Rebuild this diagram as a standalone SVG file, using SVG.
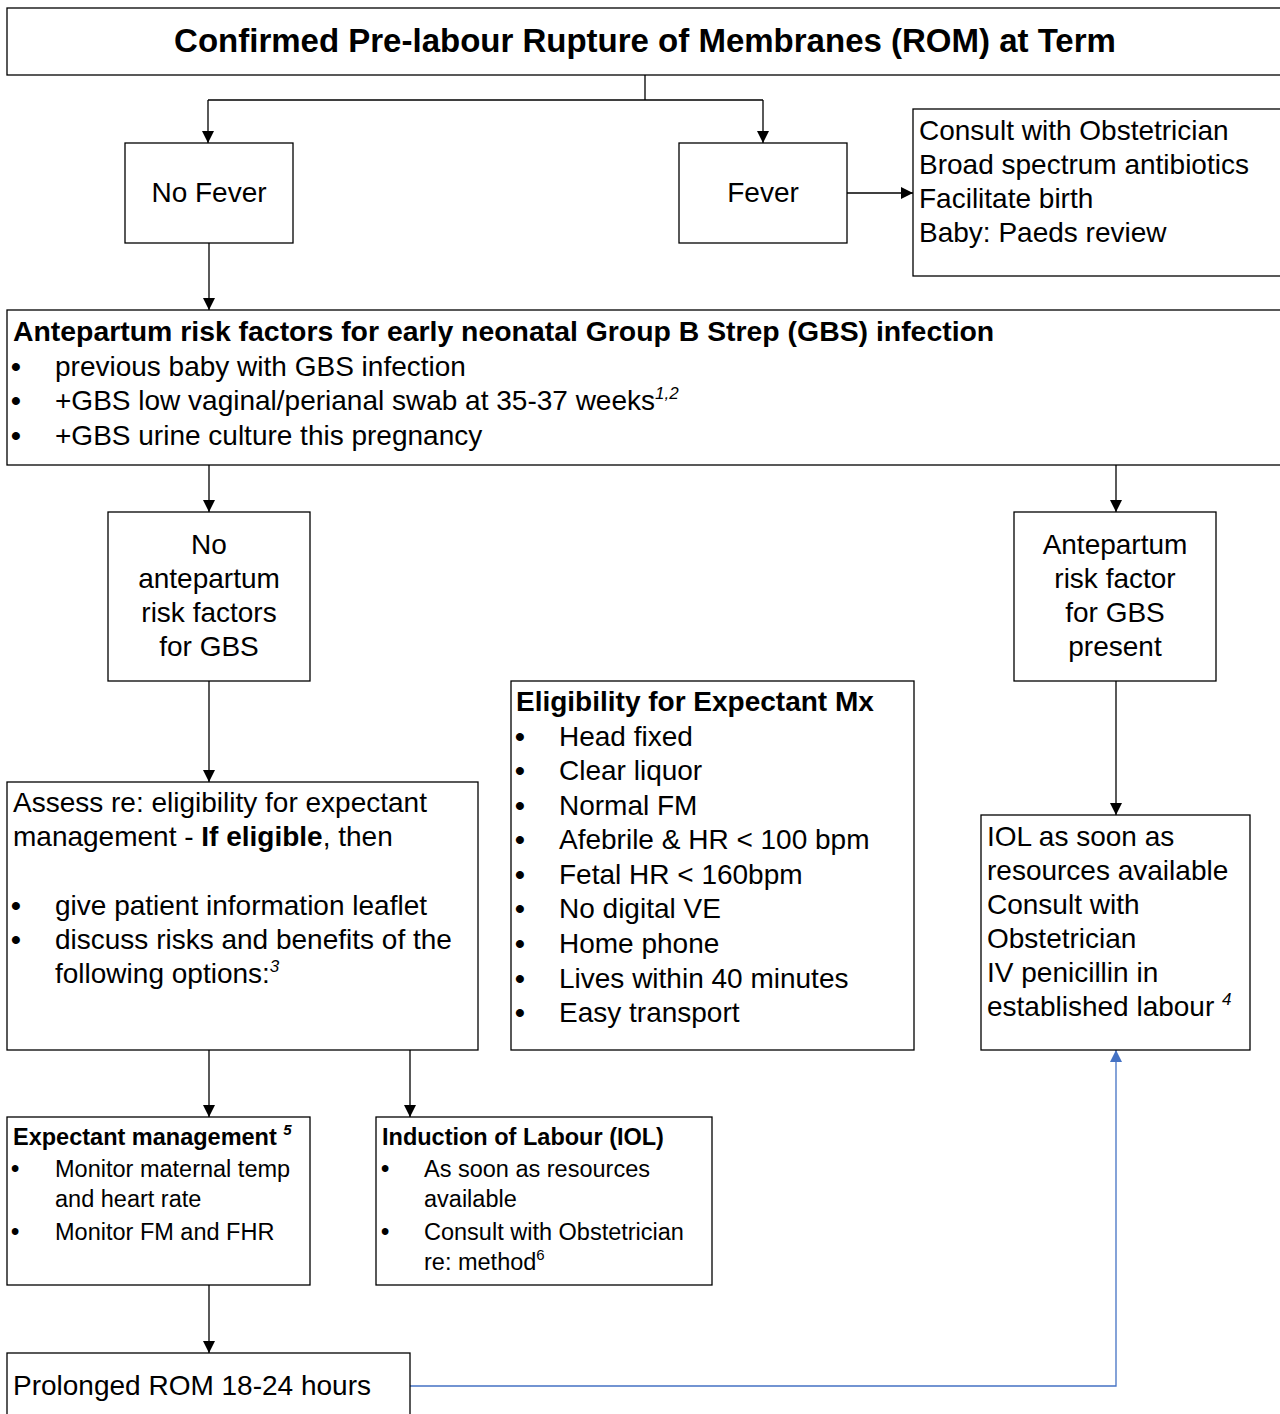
<svg xmlns="http://www.w3.org/2000/svg" width="1280" height="1414" viewBox="0 0 1280 1414">
<style>
.box{fill:#fff;stroke:#000;stroke-width:1.3}
text{font-family:"Liberation Sans",Arial,sans-serif;fill:#000}
.t{font-size:28px}
.s{font-size:23.5px}
.b{font-weight:bold}
.c{text-anchor:middle}
.bu{font-weight:bold}
.ln{fill:none;stroke:#000;stroke-width:1.3}
.blue{fill:none;stroke:#4472C4;stroke-width:1.3}
</style>
<defs>
<marker id="ah" markerWidth="12" markerHeight="12" viewBox="0 0 12 12" refX="12" refY="6" orient="auto" markerUnits="userSpaceOnUse"><path d="M0,0 L12,6 L0,12 z" fill="#000"/></marker>
<marker id="ahb" markerWidth="12" markerHeight="12" viewBox="0 0 12 12" refX="12" refY="6" orient="auto" markerUnits="userSpaceOnUse"><path d="M0,0 L12,6 L0,12 z" fill="#4472C4"/></marker>
</defs>
<rect width="1280" height="1414" fill="#fff"/>

<g id="connectors">
<path class="ln" d="M645,75 V100 M208,100 H763"/>
<path class="ln" d="M208,100 V143" marker-end="url(#ah)"/>
<path class="ln" d="M763,100 V143" marker-end="url(#ah)"/>
<path class="ln" d="M847,193 H913" marker-end="url(#ah)"/>
<path class="ln" d="M209,243 V310" marker-end="url(#ah)"/>
<path class="ln" d="M209,465 V512" marker-end="url(#ah)"/>
<path class="ln" d="M1116,465 V512" marker-end="url(#ah)"/>
<path class="ln" d="M209,681 V782" marker-end="url(#ah)"/>
<path class="ln" d="M1116,681 V815" marker-end="url(#ah)"/>
<path class="ln" d="M209,1050 V1117" marker-end="url(#ah)"/>
<path class="ln" d="M410,1050 V1117" marker-end="url(#ah)"/>
<path class="ln" d="M209,1285 V1353" marker-end="url(#ah)"/>
<path class="blue" d="M410,1386 H1116 V1050" marker-end="url(#ahb)"/>
</g>

<g id="title">
<rect class="box" x="7" y="8" width="1290" height="67"/>
<text class="b c" x="645" y="52" font-size="33">Confirmed Pre-labour Rupture of Membranes (ROM) at Term</text>
</g>

<g id="nofever">
<rect class="box" x="125" y="143" width="168" height="100"/>
<text class="t c" x="209" y="202">No Fever</text>
</g>

<g id="fever">
<rect class="box" x="679" y="143" width="168" height="100"/>
<text class="t c" x="763" y="202">Fever</text>
</g>

<g id="fever-actions">
<rect class="box" x="913" y="109" width="380" height="167"/>
<text class="t" x="919" y="140">Consult with Obstetrician</text>
<text class="t" x="919" y="174">Broad spectrum antibiotics</text>
<text class="t" x="919" y="208">Facilitate birth</text>
<text class="t" x="919" y="242">Baby: Paeds review</text>
</g>

<g id="gbs-risk">
<rect class="box" x="7" y="310" width="1290" height="155"/>
<text class="b" x="13" y="341" font-size="28.4">Antepartum risk factors for early neonatal Group B Strep (GBS) infection</text>
<text class="t" x="11" y="376"><tspan class="bu">•</tspan><tspan x="55">previous baby with GBS infection</tspan></text>
<text class="t" x="11" y="410"><tspan class="bu">•</tspan><tspan x="55">+GBS low vaginal/perianal swab at 35-37 weeks</tspan><tspan font-size="17" font-style="italic" dy="-11">1,2</tspan></text>
<text class="t" x="11" y="445"><tspan class="bu">•</tspan><tspan x="55">+GBS urine culture this pregnancy</tspan></text>
</g>

<g id="no-risk">
<rect class="box" x="108" y="512" width="202" height="169"/>
<text class="t c" x="209" y="554">No</text>
<text class="t c" x="209" y="588">antepartum</text>
<text class="t c" x="209" y="622">risk factors</text>
<text class="t c" x="209" y="656">for GBS</text>
</g>

<g id="risk-present">
<rect class="box" x="1014" y="512" width="202" height="169"/>
<text class="t c" x="1115" y="554">Antepartum</text>
<text class="t c" x="1115" y="588">risk factor</text>
<text class="t c" x="1115" y="622">for GBS</text>
<text class="t c" x="1115" y="656">present</text>
</g>

<g id="assess">
<rect class="box" x="7" y="782" width="471" height="268"/>
<text class="t" x="13" y="812">Assess re: eligibility for expectant</text>
<text class="t" x="13" y="846">management - <tspan class="b">If eligible</tspan>, then</text>
<text class="t" x="11" y="915"><tspan class="bu">•</tspan><tspan x="55">give patient information leaflet</tspan></text>
<text class="t" x="11" y="949"><tspan class="bu">•</tspan><tspan x="55">discuss risks and benefits of the</tspan></text>
<text class="t" x="55" y="983">following options:<tspan font-size="17" font-style="italic" dy="-11">3</tspan></text>
</g>

<g id="eligibility">
<rect class="box" x="511" y="681" width="403" height="369"/>
<text class="t b" x="516" y="711">Eligibility for Expectant Mx</text>
<text class="t" x="515" y="746"><tspan class="bu">•</tspan><tspan x="559">Head fixed</tspan></text>
<text class="t" x="515" y="780"><tspan class="bu">•</tspan><tspan x="559">Clear liquor</tspan></text>
<text class="t" x="515" y="815"><tspan class="bu">•</tspan><tspan x="559">Normal FM</tspan></text>
<text class="t" x="515" y="849"><tspan class="bu">•</tspan><tspan x="559">Afebrile &amp; HR &lt; 100 bpm</tspan></text>
<text class="t" x="515" y="884"><tspan class="bu">•</tspan><tspan x="559">Fetal HR &lt; 160bpm</tspan></text>
<text class="t" x="515" y="918"><tspan class="bu">•</tspan><tspan x="559">No digital VE</tspan></text>
<text class="t" x="515" y="953"><tspan class="bu">•</tspan><tspan x="559">Home phone</tspan></text>
<text class="t" x="515" y="988"><tspan class="bu">•</tspan><tspan x="559">Lives within 40 minutes</tspan></text>
<text class="t" x="515" y="1022"><tspan class="bu">•</tspan><tspan x="559">Easy transport</tspan></text>
</g>

<g id="iol-gbs">
<rect class="box" x="981" y="815" width="269" height="235"/>
<text class="t" x="987" y="846">IOL as soon as</text>
<text class="t" x="987" y="880">resources available</text>
<text class="t" x="987" y="914">Consult with</text>
<text class="t" x="987" y="948">Obstetrician</text>
<text class="t" x="987" y="982">IV penicillin in</text>
<text class="t" x="987" y="1016">established labour <tspan font-size="17" font-style="italic" dy="-11">4</tspan></text>
</g>

<g id="expectant">
<rect class="box" x="7" y="1117" width="303" height="168"/>
<text class="b" x="13" y="1145" font-size="23.5">Expectant management <tspan font-size="15" font-style="italic" dy="-10">5</tspan></text>
<text class="s" x="11" y="1177"><tspan class="bu">•</tspan><tspan x="55">Monitor maternal temp</tspan></text>
<text class="s" x="55" y="1207">and heart rate</text>
<text class="s" x="11" y="1240"><tspan class="bu">•</tspan><tspan x="55">Monitor FM and FHR</tspan></text>
</g>

<g id="induction">
<rect class="box" x="376" y="1117" width="336" height="168"/>
<text class="b" x="382" y="1145" font-size="23.5">Induction of Labour (IOL)</text>
<text class="s" x="381" y="1177"><tspan class="bu">•</tspan><tspan x="424">As soon as resources</tspan></text>
<text class="s" x="424" y="1207">available</text>
<text class="s" x="381" y="1240"><tspan class="bu">•</tspan><tspan x="424">Consult with Obstetrician</tspan></text>
<text class="s" x="424" y="1270">re: method<tspan font-size="15" dy="-10">6</tspan></text>
</g>

<g id="prolonged">
<rect class="box" x="7" y="1353" width="403" height="80"/>
<text class="t" x="13" y="1395">Prolonged ROM 18-24 hours</text>
</g>
</svg>
